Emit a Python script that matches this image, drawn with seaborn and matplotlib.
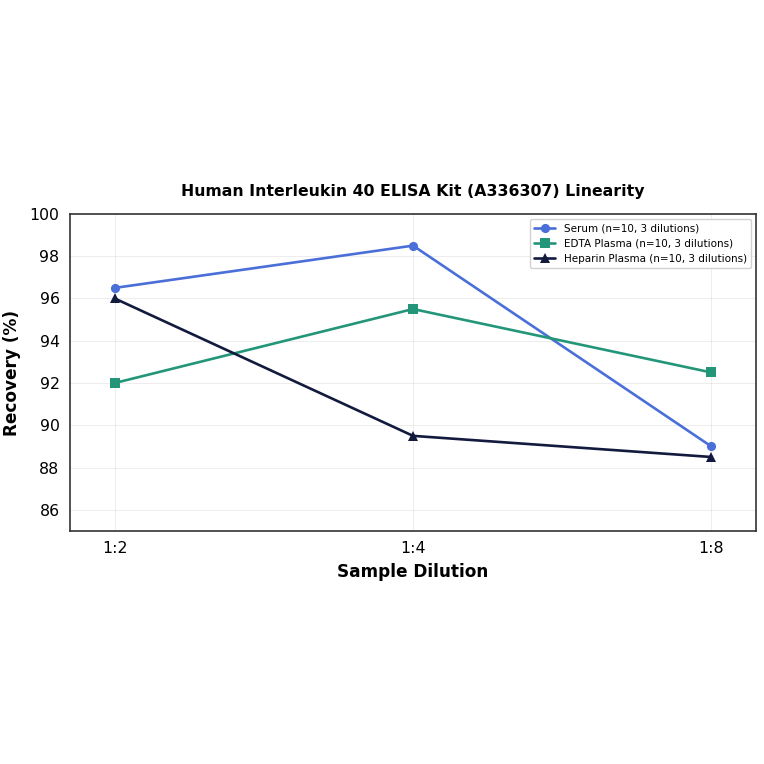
import pandas as pd
import matplotlib
matplotlib.use("Agg")
import matplotlib.pyplot as plt
import seaborn as sns

dilutions = ["1:2", "1:4", "1:8"]
serum = [96.5, 98.5, 89.0]
edta = [92.0, 95.5, 92.5]
heparin = [96.0, 89.5, 88.5]
series_names = [
    "Serum (n=10, 3 dilutions)",
    "EDTA Plasma (n=10, 3 dilutions)",
    "Heparin Plasma (n=10, 3 dilutions)",
]
colors = ["#4a6fd8", "#23967a", "#121a3e"]
markers = ["o", "s", "^"]

rows = []
for name, vals in zip(series_names, [serum, edta, heparin]):
    for i, (d, v) in enumerate(zip(dilutions, vals)):
        rows.append({"pos": i, "dilution": d, "recovery": v, "sample": name})
df = pd.DataFrame(rows)

sns.set_style("white")
plt.rcParams["font.family"] = ["DejaVu Sans"]
plt.rcParams["text.color"] = "black"
plt.rcParams["axes.labelcolor"] = "black"

fig = plt.figure(figsize=(7.64, 7.64), dpi=100)
ax = fig.add_axes([0.0916, 0.305, 0.898, 0.415])

sns.lineplot(
    data=df, x="pos", y="recovery", hue="sample", style="sample",
    palette=dict(zip(series_names, colors)),
    markers=dict(zip(series_names, markers)), dashes=False,
    linewidth=1.9, markersize=6.6, markeredgewidth=0, ax=ax,
)

ax.set_xticks(range(len(dilutions)))
ax.set_xticklabels(dilutions)
ax.set_xlim(-0.15, 2.15)
ax.set_ylim(85, 100)
ax.set_yticks(range(86, 101, 2))
ax.tick_params(axis="both", labelsize=11.3, length=4, width=1, direction="out", colors="#222222", labelcolor="black")
ax.grid(True, color="#dddddd", linewidth=0.6, alpha=0.6)
for s in ax.spines.values():
    s.set_color("#333333")
    s.set_linewidth(1.2)

ax.set_xlabel("Sample Dilution", fontsize=12.2, fontweight="bold", color="black", labelpad=5)
ax.set_ylabel("Recovery (%)", fontsize=12.2, fontweight="bold", color="black", labelpad=6)
ax.set_title("Human Interleukin 40 ELISA Kit (A336307) Linearity", fontsize=11.3, fontweight="bold", pad=13, color="black")
ax.legend(loc="upper right", fontsize=7.5, frameon=True, framealpha=0.9)

fig.savefig("out.png", dpi=100)
